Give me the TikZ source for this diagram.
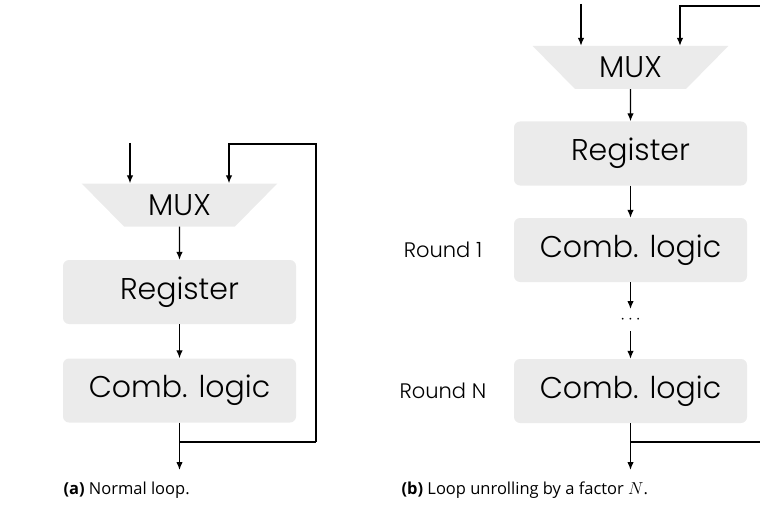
\documentclass[tikz,border=0pt]{standalone}
\usepackage{fontspec}
\setmainfont{Open Sans}
\newfontfamily\popfont{Poppins}[UprightFont={*-Light}]
\usetikzlibrary{arrows.meta,shapes.geometric,positioning}
\definecolor{boxgray}{HTML}{EBEBEB}

\begin{document}
\begin{tikzpicture}[x=1pt,y=-1pt,
	blockbox/.style={fill=boxgray,rounded corners=6pt,minimum width=233pt,minimum height=64pt,inner sep=0pt,font=\popfont\fontsize{30}{34}\selectfont},
	muxbox/.style={fill=boxgray,trapezium,shape border rotate=180,trapezium stretches=true,trapezium angle=41.5,minimum width=196pt,minimum height=43pt,inner sep=0pt,font=\popfont\fontsize{30}{34}\selectfont},
	roundlbl/.style={font=\popfont\fontsize{21}{24}\selectfont},
	caplbl/.style={anchor=west,font=\fontsize{16.5}{19}\selectfont},
	sig/.style={line width=1.3pt,-{Latex[length=8pt,width=6.5pt]}},
	wire/.style={line width=1.3pt}]
	\useasboundingbox (0,0) rectangle (760,508);

	% (a) normal loop
	\node[muxbox] (muxA) at (179.5,205) {MUX};
	\node[blockbox] (regA) at (179.5,292) {Register};
	\node[blockbox] (combA) at (179.5,390.5) {Comb. logic};
	\coordinate (inA) at (130,143);
	\coordinate (fbA) at (229,144);
	\coordinate (outA) at (179.5,470);
	\coordinate (tapA) at (179.5,442);
	\draw[sig] (inA) -- (inA |- muxA.north);
	\draw[sig] (316,442) |- (fbA) -- (fbA |- muxA.north);
	\draw[sig] (muxA.south) -- (regA.north);
	\draw[sig] (regA.south) -- (combA.north);
	\draw[sig] (combA.south) -- (outA);
	\draw[wire] (tapA) -- (316,442);
	\node[caplbl] (capA) at (60,490) {\textbf{(a)} Normal loop.};

	% (b) loop unrolling
	\node[muxbox] (muxB) at (630.5,67.5) {MUX};
	\node[blockbox] (regB) at (630.5,153.5) {Register};
	\node[blockbox] (combB1) at (630.5,250) {Comb. logic};
	\node[inner sep=0pt] (dotsB) at (630.5,320) {\fontsize{17}{20}\selectfont$\cdots$};
	\node[blockbox] (combBN) at (630.5,391) {Comb. logic};
	\node[roundlbl,left=28pt of combB1] (rnd1) {Round 1};
	\node[roundlbl,left=24pt of combBN] (rndN) {Round N};
	\coordinate (inB) at (581,4);
	\coordinate (fbB) at (680,6);
	\coordinate (outB) at (630.5,470);
	\coordinate (tapB) at (630.5,442);
	\draw[sig] (inB) -- (inB |- muxB.north);
	\draw[sig] (765,442) |- (fbB) -- (fbB |- muxB.north);
	\draw[sig] (muxB.south) -- (regB.north);
	\draw[sig] (regB.south) -- (combB1.north);
	\draw[sig] (combB1.south) -- (630.5,309);
	\draw[sig] (630.5,331) -- (combBN.north);
	\draw[sig] (combBN.south) -- (outB);
	\draw[wire] (tapB) -- (765,442);
	\node[caplbl] (capB) at (398,490) {\textbf{(b)} Loop unrolling by a factor $N$.};
\end{tikzpicture}
\end{document}
